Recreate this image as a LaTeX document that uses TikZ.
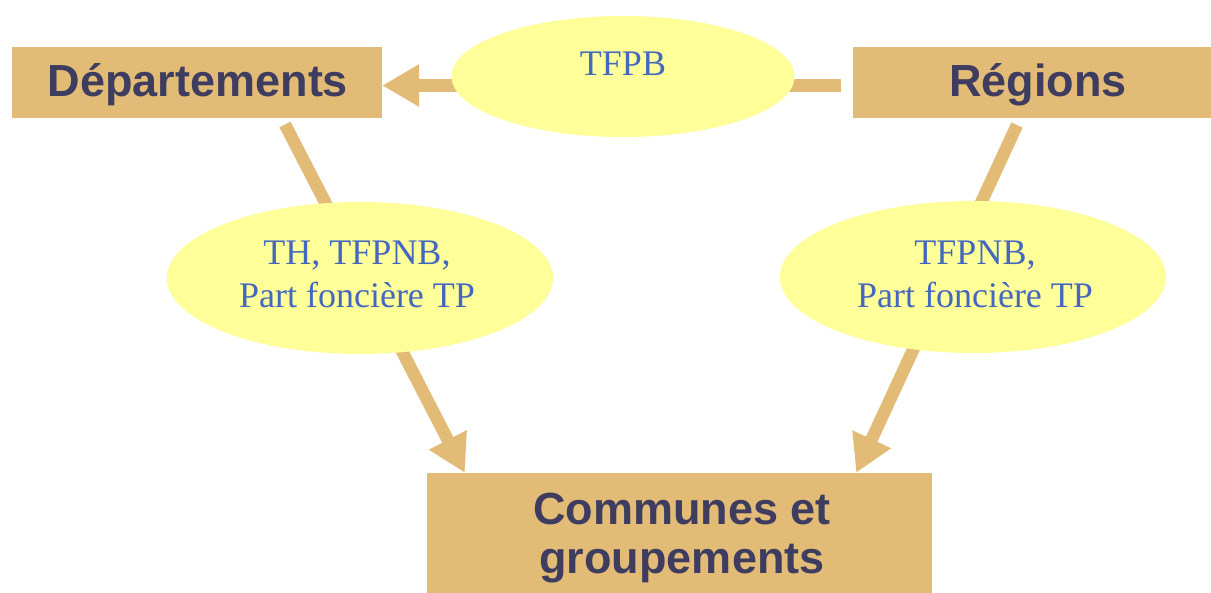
\documentclass[tikz,border=0pt]{standalone}
\usepackage{fontspec}
\setmainfont{Liberation Serif}
\newfontfamily\boxfont{Liberation Sans}
\usetikzlibrary{shapes.geometric,arrows.meta,calc}
\definecolor{boxfill}{HTML}{E2BC76}
\definecolor{ellfill}{HTML}{FFFF99}
\definecolor{boxtext}{HTML}{3F3D5F}
\definecolor{elltext}{HTML}{4468BE}
\begin{document}
\begin{tikzpicture}[x=1pt,y=-1pt,
  box/.style={rectangle, fill=boxfill, inner sep=0pt, minimum height=71pt},
  bubble/.style={ellipse, fill=ellfill, inner sep=0pt},
  boxlabel/.style={anchor=base, inner sep=0pt, text=boxtext, font=\boxfont\bfseries\fontsize{45}{48}\selectfont},
  bubblelabel/.style={anchor=base, inner sep=0pt, text=elltext, font=\fontsize{36}{43}\selectfont},
  flow/.style={draw=boxfill, line width=12.5pt, -{Triangle[length=37pt,width=40pt]}}
]
\fill[white] (0,0) rectangle (1211,593);
\useasboundingbox (0,0) rectangle (1211,593);

% boxes
\node[box, minimum width=370pt] (dep) at (197,82.5) {};
\node[box, minimum width=358pt] (reg) at (1032,82.5) {};
\node[box, minimum width=505pt, minimum height=120pt] (comm) at (679.5,533) {};

% connectors
\coordinate (topstart) at ($(reg.west)+(-12,3)$);
\coordinate (leftstart) at (285,124.5);
\coordinate (rightstart) at (1017,125);
\coordinate (lefttip) at ($(comm.north west)+(38,0)$);
\coordinate (righttip) at ($(comm.north east)+(-76,0)$);
\draw[flow] (topstart) -- (dep.east |- topstart);
\draw[flow] (leftstart) -- (lefttip);
\draw[flow] (rightstart) -- (righttip);

% bubbles
\node[bubble, minimum width=343pt, minimum height=121pt] (tfpb) at (623,76.5) {};
\node[bubble, minimum width=386pt, minimum height=152pt] (leftb) at (360,278) {};
\node[bubble, minimum width=386pt, minimum height=152pt] (rightb) at (973,277) {};

% labels
\node[boxlabel] (deplabel) at (198,97) {Départements};
\node[boxlabel] (reglabel) at (1038,97) {Régions};
\node[boxlabel] (comml1) at (682,525) {Communes et};
\node[boxlabel] (comml2) at (682,573) {groupements};
\node[bubblelabel] (tl) at (623,76) {TFPB};
\node[bubblelabel] (l1) at (357,265) {TH, TFPNB,};
\node[bubblelabel] (l2) at (357,308) {Part foncière TP};
\node[bubblelabel] (r1) at (975,265) {TFPNB,};
\node[bubblelabel] (r2) at (975,308) {Part foncière TP};
\end{tikzpicture}
\end{document}
